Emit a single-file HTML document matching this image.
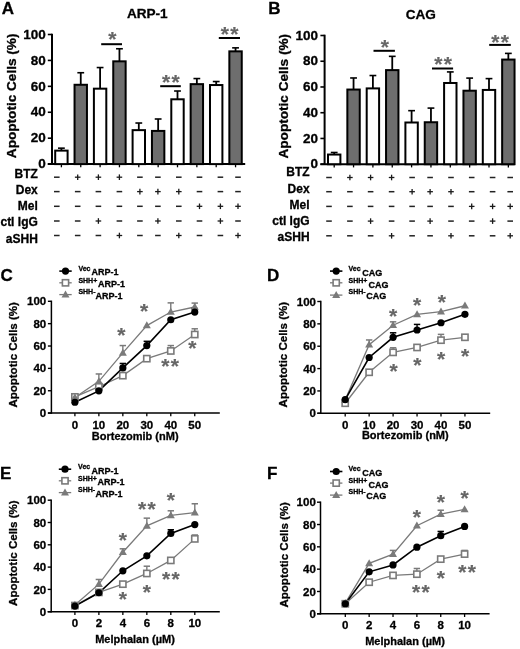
<!DOCTYPE html>
<html><head><meta charset="utf-8"><style>
html,body{margin:0;padding:0;background:#fff;width:520px;height:649px;overflow:hidden}
svg{display:block;font-family:"Liberation Sans", sans-serif;filter:grayscale(1)}
text{stroke:#000;stroke-width:0.3px;paint-order:stroke}
text.st{stroke:#666666;stroke-width:0.2px}
</style></head><body>
<svg width="520" height="649" viewBox="0 0 520 649">
<rect width="520" height="649" fill="#fff"/>
<line x1="52.00" y1="33.70" x2="52.00" y2="164.90" stroke="#000" stroke-width="2" stroke-linecap="butt"/>
<line x1="47.80" y1="164.10" x2="52.00" y2="164.10" stroke="#000" stroke-width="1.6" stroke-linecap="butt"/>
<text x="45.80" y="168.30" font-size="13.5" font-weight="bold" text-anchor="end" fill="#000" >0</text>
<line x1="47.80" y1="138.18" x2="52.00" y2="138.18" stroke="#000" stroke-width="1.6" stroke-linecap="butt"/>
<text x="45.80" y="142.38" font-size="13.5" font-weight="bold" text-anchor="end" fill="#000" >20</text>
<line x1="47.80" y1="112.26" x2="52.00" y2="112.26" stroke="#000" stroke-width="1.6" stroke-linecap="butt"/>
<text x="45.80" y="116.46" font-size="13.5" font-weight="bold" text-anchor="end" fill="#000" >40</text>
<line x1="47.80" y1="86.34" x2="52.00" y2="86.34" stroke="#000" stroke-width="1.6" stroke-linecap="butt"/>
<text x="45.80" y="90.54" font-size="13.5" font-weight="bold" text-anchor="end" fill="#000" >60</text>
<line x1="47.80" y1="60.42" x2="52.00" y2="60.42" stroke="#000" stroke-width="1.6" stroke-linecap="butt"/>
<text x="45.80" y="64.62" font-size="13.5" font-weight="bold" text-anchor="end" fill="#000" >80</text>
<line x1="47.80" y1="34.50" x2="52.00" y2="34.50" stroke="#000" stroke-width="1.6" stroke-linecap="butt"/>
<text x="45.80" y="38.70" font-size="13.5" font-weight="bold" text-anchor="end" fill="#000" >100</text>
<line x1="47.80" y1="164.10" x2="245.20" y2="164.10" stroke="#000" stroke-width="2" stroke-linecap="butt"/>
<line x1="61.40" y1="150.62" x2="61.40" y2="148.16" stroke="#000" stroke-width="1.8" stroke-linecap="butt"/>
<line x1="58.00" y1="148.16" x2="64.80" y2="148.16" stroke="#000" stroke-width="1.6" stroke-linecap="butt"/>
<rect x="55.20" y="150.62" width="12.4" height="13.48" fill="#fff" stroke="#000" stroke-width="2"/>
<line x1="61.40" y1="164.10" x2="61.40" y2="167.30" stroke="#000" stroke-width="1.3" stroke-linecap="butt"/>
<line x1="80.75" y1="84.78" x2="80.75" y2="72.73" stroke="#000" stroke-width="1.8" stroke-linecap="butt"/>
<line x1="77.35" y1="72.73" x2="84.15" y2="72.73" stroke="#000" stroke-width="1.6" stroke-linecap="butt"/>
<rect x="74.55" y="84.78" width="12.4" height="79.32" fill="#6e6e6e" stroke="#000" stroke-width="2"/>
<line x1="80.75" y1="164.10" x2="80.75" y2="167.30" stroke="#000" stroke-width="1.3" stroke-linecap="butt"/>
<line x1="100.10" y1="88.67" x2="100.10" y2="67.55" stroke="#000" stroke-width="1.8" stroke-linecap="butt"/>
<line x1="96.70" y1="67.55" x2="103.50" y2="67.55" stroke="#000" stroke-width="1.6" stroke-linecap="butt"/>
<rect x="93.90" y="88.67" width="12.4" height="75.43" fill="#fff" stroke="#000" stroke-width="2"/>
<line x1="100.10" y1="164.10" x2="100.10" y2="167.30" stroke="#000" stroke-width="1.3" stroke-linecap="butt"/>
<line x1="119.45" y1="61.33" x2="119.45" y2="48.76" stroke="#000" stroke-width="1.8" stroke-linecap="butt"/>
<line x1="116.05" y1="48.76" x2="122.85" y2="48.76" stroke="#000" stroke-width="1.6" stroke-linecap="butt"/>
<rect x="113.25" y="61.33" width="12.4" height="102.77" fill="#6e6e6e" stroke="#000" stroke-width="2"/>
<line x1="119.45" y1="164.10" x2="119.45" y2="167.30" stroke="#000" stroke-width="1.3" stroke-linecap="butt"/>
<line x1="138.80" y1="130.14" x2="138.80" y2="123.02" stroke="#000" stroke-width="1.8" stroke-linecap="butt"/>
<line x1="135.40" y1="123.02" x2="142.20" y2="123.02" stroke="#000" stroke-width="1.6" stroke-linecap="butt"/>
<rect x="132.60" y="130.14" width="12.4" height="33.96" fill="#fff" stroke="#000" stroke-width="2"/>
<line x1="138.80" y1="164.10" x2="138.80" y2="167.30" stroke="#000" stroke-width="1.3" stroke-linecap="butt"/>
<line x1="158.15" y1="130.92" x2="158.15" y2="119.00" stroke="#000" stroke-width="1.8" stroke-linecap="butt"/>
<line x1="154.75" y1="119.00" x2="161.55" y2="119.00" stroke="#000" stroke-width="1.6" stroke-linecap="butt"/>
<rect x="151.95" y="130.92" width="12.4" height="33.18" fill="#6e6e6e" stroke="#000" stroke-width="2"/>
<line x1="158.15" y1="164.10" x2="158.15" y2="167.30" stroke="#000" stroke-width="1.3" stroke-linecap="butt"/>
<line x1="177.50" y1="99.30" x2="177.50" y2="91.01" stroke="#000" stroke-width="1.8" stroke-linecap="butt"/>
<line x1="174.10" y1="91.01" x2="180.90" y2="91.01" stroke="#000" stroke-width="1.6" stroke-linecap="butt"/>
<rect x="171.30" y="99.30" width="12.4" height="64.80" fill="#fff" stroke="#000" stroke-width="2"/>
<line x1="177.50" y1="164.10" x2="177.50" y2="167.30" stroke="#000" stroke-width="1.3" stroke-linecap="butt"/>
<line x1="196.85" y1="84.14" x2="196.85" y2="78.56" stroke="#000" stroke-width="1.8" stroke-linecap="butt"/>
<line x1="193.45" y1="78.56" x2="200.25" y2="78.56" stroke="#000" stroke-width="1.6" stroke-linecap="butt"/>
<rect x="190.65" y="84.14" width="12.4" height="79.96" fill="#6e6e6e" stroke="#000" stroke-width="2"/>
<line x1="196.85" y1="164.10" x2="196.85" y2="167.30" stroke="#000" stroke-width="1.3" stroke-linecap="butt"/>
<line x1="216.20" y1="85.04" x2="216.20" y2="81.54" stroke="#000" stroke-width="1.8" stroke-linecap="butt"/>
<line x1="212.80" y1="81.54" x2="219.60" y2="81.54" stroke="#000" stroke-width="1.6" stroke-linecap="butt"/>
<rect x="210.00" y="85.04" width="12.4" height="79.06" fill="#fff" stroke="#000" stroke-width="2"/>
<line x1="216.20" y1="164.10" x2="216.20" y2="167.30" stroke="#000" stroke-width="1.3" stroke-linecap="butt"/>
<line x1="235.55" y1="51.35" x2="235.55" y2="47.85" stroke="#000" stroke-width="1.8" stroke-linecap="butt"/>
<line x1="232.15" y1="47.85" x2="238.95" y2="47.85" stroke="#000" stroke-width="1.6" stroke-linecap="butt"/>
<rect x="229.35" y="51.35" width="12.4" height="112.75" fill="#6e6e6e" stroke="#000" stroke-width="2"/>
<line x1="235.55" y1="164.10" x2="235.55" y2="167.30" stroke="#000" stroke-width="1.3" stroke-linecap="butt"/>
<line x1="101.20" y1="44.20" x2="122.00" y2="44.20" stroke="#000" stroke-width="2" stroke-linecap="butt"/>
<text x="112.30" y="45.91" font-size="21" font-weight="bold" text-anchor="middle" fill="#666666" class="st">*</text>
<line x1="160.20" y1="86.20" x2="180.80" y2="86.20" stroke="#000" stroke-width="2" stroke-linecap="butt"/>
<text x="166.05" y="88.91" font-size="21" font-weight="bold" text-anchor="middle" fill="#666666" class="st">*</text>
<text x="175.55" y="88.91" font-size="21" font-weight="bold" text-anchor="middle" fill="#666666" class="st">*</text>
<line x1="218.80" y1="38.00" x2="240.00" y2="38.00" stroke="#000" stroke-width="2" stroke-linecap="butt"/>
<text x="224.95" y="41.41" font-size="21" font-weight="bold" text-anchor="middle" fill="#666666" class="st">*</text>
<text x="234.45" y="41.41" font-size="21" font-weight="bold" text-anchor="middle" fill="#666666" class="st">*</text>
<text x="147.30" y="18.30" font-size="13.6" font-weight="bold" text-anchor="middle" fill="#000" >ARP-1</text>
<text x="1.80" y="13.60" font-size="17" font-weight="bold" text-anchor="start" fill="#000" >A</text>
<text transform="translate(16.10,95.85) rotate(-90)" font-size="13.6" font-weight="bold" text-anchor="middle">Apoptotic Cells (%)</text>
<text x="37.80" y="178.10" font-size="12" font-weight="bold" text-anchor="end" fill="#000" >BTZ</text>
<line x1="54.00" y1="177.20" x2="59.60" y2="177.20" stroke="#222" stroke-width="1.5" stroke-linecap="butt"/>
<line x1="74.90" y1="177.20" x2="80.50" y2="177.20" stroke="#1a1a1a" stroke-width="1.3" stroke-linecap="butt"/>
<line x1="77.70" y1="174.40" x2="77.70" y2="180.00" stroke="#1a1a1a" stroke-width="1.3" stroke-linecap="butt"/>
<line x1="95.60" y1="177.20" x2="101.20" y2="177.20" stroke="#1a1a1a" stroke-width="1.3" stroke-linecap="butt"/>
<line x1="98.40" y1="174.40" x2="98.40" y2="180.00" stroke="#1a1a1a" stroke-width="1.3" stroke-linecap="butt"/>
<line x1="116.60" y1="177.20" x2="122.20" y2="177.20" stroke="#1a1a1a" stroke-width="1.3" stroke-linecap="butt"/>
<line x1="119.40" y1="174.40" x2="119.40" y2="180.00" stroke="#1a1a1a" stroke-width="1.3" stroke-linecap="butt"/>
<line x1="137.10" y1="177.20" x2="142.70" y2="177.20" stroke="#222" stroke-width="1.5" stroke-linecap="butt"/>
<line x1="155.10" y1="177.20" x2="160.70" y2="177.20" stroke="#222" stroke-width="1.5" stroke-linecap="butt"/>
<line x1="176.00" y1="177.20" x2="181.60" y2="177.20" stroke="#222" stroke-width="1.5" stroke-linecap="butt"/>
<line x1="196.70" y1="177.20" x2="202.30" y2="177.20" stroke="#222" stroke-width="1.5" stroke-linecap="butt"/>
<line x1="217.60" y1="177.20" x2="223.20" y2="177.20" stroke="#222" stroke-width="1.5" stroke-linecap="butt"/>
<line x1="235.20" y1="177.20" x2="240.80" y2="177.20" stroke="#222" stroke-width="1.5" stroke-linecap="butt"/>
<text x="37.80" y="194.30" font-size="12" font-weight="bold" text-anchor="end" fill="#000" >Dex</text>
<line x1="54.00" y1="191.60" x2="59.60" y2="191.60" stroke="#222" stroke-width="1.5" stroke-linecap="butt"/>
<line x1="74.90" y1="191.60" x2="80.50" y2="191.60" stroke="#222" stroke-width="1.5" stroke-linecap="butt"/>
<line x1="95.60" y1="191.60" x2="101.20" y2="191.60" stroke="#222" stroke-width="1.5" stroke-linecap="butt"/>
<line x1="116.60" y1="191.60" x2="122.20" y2="191.60" stroke="#222" stroke-width="1.5" stroke-linecap="butt"/>
<line x1="137.10" y1="191.60" x2="142.70" y2="191.60" stroke="#1a1a1a" stroke-width="1.3" stroke-linecap="butt"/>
<line x1="139.90" y1="188.80" x2="139.90" y2="194.40" stroke="#1a1a1a" stroke-width="1.3" stroke-linecap="butt"/>
<line x1="155.10" y1="191.60" x2="160.70" y2="191.60" stroke="#1a1a1a" stroke-width="1.3" stroke-linecap="butt"/>
<line x1="157.90" y1="188.80" x2="157.90" y2="194.40" stroke="#1a1a1a" stroke-width="1.3" stroke-linecap="butt"/>
<line x1="176.00" y1="191.60" x2="181.60" y2="191.60" stroke="#1a1a1a" stroke-width="1.3" stroke-linecap="butt"/>
<line x1="178.80" y1="188.80" x2="178.80" y2="194.40" stroke="#1a1a1a" stroke-width="1.3" stroke-linecap="butt"/>
<line x1="196.70" y1="191.60" x2="202.30" y2="191.60" stroke="#222" stroke-width="1.5" stroke-linecap="butt"/>
<line x1="217.60" y1="191.60" x2="223.20" y2="191.60" stroke="#222" stroke-width="1.5" stroke-linecap="butt"/>
<line x1="235.20" y1="191.60" x2="240.80" y2="191.60" stroke="#222" stroke-width="1.5" stroke-linecap="butt"/>
<text x="37.80" y="210.10" font-size="12" font-weight="bold" text-anchor="end" fill="#000" >Mel</text>
<line x1="54.00" y1="206.30" x2="59.60" y2="206.30" stroke="#222" stroke-width="1.5" stroke-linecap="butt"/>
<line x1="74.90" y1="206.30" x2="80.50" y2="206.30" stroke="#222" stroke-width="1.5" stroke-linecap="butt"/>
<line x1="95.60" y1="206.30" x2="101.20" y2="206.30" stroke="#222" stroke-width="1.5" stroke-linecap="butt"/>
<line x1="116.60" y1="206.30" x2="122.20" y2="206.30" stroke="#222" stroke-width="1.5" stroke-linecap="butt"/>
<line x1="137.10" y1="206.30" x2="142.70" y2="206.30" stroke="#222" stroke-width="1.5" stroke-linecap="butt"/>
<line x1="155.10" y1="206.30" x2="160.70" y2="206.30" stroke="#222" stroke-width="1.5" stroke-linecap="butt"/>
<line x1="176.00" y1="206.30" x2="181.60" y2="206.30" stroke="#222" stroke-width="1.5" stroke-linecap="butt"/>
<line x1="196.70" y1="206.30" x2="202.30" y2="206.30" stroke="#1a1a1a" stroke-width="1.3" stroke-linecap="butt"/>
<line x1="199.50" y1="203.50" x2="199.50" y2="209.10" stroke="#1a1a1a" stroke-width="1.3" stroke-linecap="butt"/>
<line x1="217.60" y1="206.30" x2="223.20" y2="206.30" stroke="#1a1a1a" stroke-width="1.3" stroke-linecap="butt"/>
<line x1="220.40" y1="203.50" x2="220.40" y2="209.10" stroke="#1a1a1a" stroke-width="1.3" stroke-linecap="butt"/>
<line x1="235.20" y1="206.30" x2="240.80" y2="206.30" stroke="#1a1a1a" stroke-width="1.3" stroke-linecap="butt"/>
<line x1="238.00" y1="203.50" x2="238.00" y2="209.10" stroke="#1a1a1a" stroke-width="1.3" stroke-linecap="butt"/>
<text x="37.80" y="226.20" font-size="12" font-weight="bold" text-anchor="end" fill="#000" >ctl IgG</text>
<line x1="54.00" y1="221.00" x2="59.60" y2="221.00" stroke="#222" stroke-width="1.5" stroke-linecap="butt"/>
<line x1="74.90" y1="221.00" x2="80.50" y2="221.00" stroke="#222" stroke-width="1.5" stroke-linecap="butt"/>
<line x1="95.60" y1="221.00" x2="101.20" y2="221.00" stroke="#1a1a1a" stroke-width="1.3" stroke-linecap="butt"/>
<line x1="98.40" y1="218.20" x2="98.40" y2="223.80" stroke="#1a1a1a" stroke-width="1.3" stroke-linecap="butt"/>
<line x1="116.60" y1="221.00" x2="122.20" y2="221.00" stroke="#222" stroke-width="1.5" stroke-linecap="butt"/>
<line x1="137.10" y1="221.00" x2="142.70" y2="221.00" stroke="#222" stroke-width="1.5" stroke-linecap="butt"/>
<line x1="155.10" y1="221.00" x2="160.70" y2="221.00" stroke="#1a1a1a" stroke-width="1.3" stroke-linecap="butt"/>
<line x1="157.90" y1="218.20" x2="157.90" y2="223.80" stroke="#1a1a1a" stroke-width="1.3" stroke-linecap="butt"/>
<line x1="176.00" y1="221.00" x2="181.60" y2="221.00" stroke="#222" stroke-width="1.5" stroke-linecap="butt"/>
<line x1="196.70" y1="221.00" x2="202.30" y2="221.00" stroke="#222" stroke-width="1.5" stroke-linecap="butt"/>
<line x1="217.60" y1="221.00" x2="223.20" y2="221.00" stroke="#1a1a1a" stroke-width="1.3" stroke-linecap="butt"/>
<line x1="220.40" y1="218.20" x2="220.40" y2="223.80" stroke="#1a1a1a" stroke-width="1.3" stroke-linecap="butt"/>
<line x1="235.20" y1="221.00" x2="240.80" y2="221.00" stroke="#222" stroke-width="1.5" stroke-linecap="butt"/>
<text x="37.80" y="242.50" font-size="12" font-weight="bold" text-anchor="end" fill="#000" >aSHH</text>
<line x1="54.00" y1="235.50" x2="59.60" y2="235.50" stroke="#222" stroke-width="1.5" stroke-linecap="butt"/>
<line x1="74.90" y1="235.50" x2="80.50" y2="235.50" stroke="#222" stroke-width="1.5" stroke-linecap="butt"/>
<line x1="95.60" y1="235.50" x2="101.20" y2="235.50" stroke="#222" stroke-width="1.5" stroke-linecap="butt"/>
<line x1="116.60" y1="235.50" x2="122.20" y2="235.50" stroke="#1a1a1a" stroke-width="1.3" stroke-linecap="butt"/>
<line x1="119.40" y1="232.70" x2="119.40" y2="238.30" stroke="#1a1a1a" stroke-width="1.3" stroke-linecap="butt"/>
<line x1="137.10" y1="235.50" x2="142.70" y2="235.50" stroke="#222" stroke-width="1.5" stroke-linecap="butt"/>
<line x1="155.10" y1="235.50" x2="160.70" y2="235.50" stroke="#222" stroke-width="1.5" stroke-linecap="butt"/>
<line x1="176.00" y1="235.50" x2="181.60" y2="235.50" stroke="#1a1a1a" stroke-width="1.3" stroke-linecap="butt"/>
<line x1="178.80" y1="232.70" x2="178.80" y2="238.30" stroke="#1a1a1a" stroke-width="1.3" stroke-linecap="butt"/>
<line x1="196.70" y1="235.50" x2="202.30" y2="235.50" stroke="#222" stroke-width="1.5" stroke-linecap="butt"/>
<line x1="217.60" y1="235.50" x2="223.20" y2="235.50" stroke="#222" stroke-width="1.5" stroke-linecap="butt"/>
<line x1="235.20" y1="235.50" x2="240.80" y2="235.50" stroke="#1a1a1a" stroke-width="1.3" stroke-linecap="butt"/>
<line x1="238.00" y1="232.70" x2="238.00" y2="238.30" stroke="#1a1a1a" stroke-width="1.3" stroke-linecap="butt"/>
<line x1="324.60" y1="34.70" x2="324.60" y2="165.00" stroke="#000" stroke-width="2" stroke-linecap="butt"/>
<line x1="320.40" y1="164.20" x2="324.60" y2="164.20" stroke="#000" stroke-width="1.6" stroke-linecap="butt"/>
<text x="318.00" y="168.40" font-size="13.5" font-weight="bold" text-anchor="end" fill="#000" >0</text>
<line x1="320.40" y1="138.46" x2="324.60" y2="138.46" stroke="#000" stroke-width="1.6" stroke-linecap="butt"/>
<text x="318.00" y="142.66" font-size="13.5" font-weight="bold" text-anchor="end" fill="#000" >20</text>
<line x1="320.40" y1="112.72" x2="324.60" y2="112.72" stroke="#000" stroke-width="1.6" stroke-linecap="butt"/>
<text x="318.00" y="116.92" font-size="13.5" font-weight="bold" text-anchor="end" fill="#000" >40</text>
<line x1="320.40" y1="86.98" x2="324.60" y2="86.98" stroke="#000" stroke-width="1.6" stroke-linecap="butt"/>
<text x="318.00" y="91.18" font-size="13.5" font-weight="bold" text-anchor="end" fill="#000" >60</text>
<line x1="320.40" y1="61.24" x2="324.60" y2="61.24" stroke="#000" stroke-width="1.6" stroke-linecap="butt"/>
<text x="318.00" y="65.44" font-size="13.5" font-weight="bold" text-anchor="end" fill="#000" >80</text>
<line x1="320.40" y1="35.50" x2="324.60" y2="35.50" stroke="#000" stroke-width="1.6" stroke-linecap="butt"/>
<text x="318.00" y="39.70" font-size="13.5" font-weight="bold" text-anchor="end" fill="#000" >100</text>
<line x1="320.40" y1="164.20" x2="514.70" y2="164.20" stroke="#000" stroke-width="2" stroke-linecap="butt"/>
<line x1="334.20" y1="154.55" x2="334.20" y2="152.49" stroke="#000" stroke-width="1.8" stroke-linecap="butt"/>
<line x1="330.80" y1="152.49" x2="337.60" y2="152.49" stroke="#000" stroke-width="1.6" stroke-linecap="butt"/>
<rect x="328.00" y="154.55" width="12.4" height="9.65" fill="#fff" stroke="#000" stroke-width="2"/>
<line x1="334.20" y1="164.20" x2="334.20" y2="167.40" stroke="#000" stroke-width="1.3" stroke-linecap="butt"/>
<line x1="353.55" y1="89.55" x2="353.55" y2="77.97" stroke="#000" stroke-width="1.8" stroke-linecap="butt"/>
<line x1="350.15" y1="77.97" x2="356.95" y2="77.97" stroke="#000" stroke-width="1.6" stroke-linecap="butt"/>
<rect x="347.35" y="89.55" width="12.4" height="74.65" fill="#6e6e6e" stroke="#000" stroke-width="2"/>
<line x1="353.55" y1="164.20" x2="353.55" y2="167.40" stroke="#000" stroke-width="1.3" stroke-linecap="butt"/>
<line x1="372.90" y1="88.40" x2="372.90" y2="75.53" stroke="#000" stroke-width="1.8" stroke-linecap="butt"/>
<line x1="369.50" y1="75.53" x2="376.30" y2="75.53" stroke="#000" stroke-width="1.6" stroke-linecap="butt"/>
<rect x="366.70" y="88.40" width="12.4" height="75.80" fill="#fff" stroke="#000" stroke-width="2"/>
<line x1="372.90" y1="164.20" x2="372.90" y2="167.40" stroke="#000" stroke-width="1.3" stroke-linecap="butt"/>
<line x1="392.25" y1="70.12" x2="392.25" y2="56.35" stroke="#000" stroke-width="1.8" stroke-linecap="butt"/>
<line x1="388.85" y1="56.35" x2="395.65" y2="56.35" stroke="#000" stroke-width="1.6" stroke-linecap="butt"/>
<rect x="386.05" y="70.12" width="12.4" height="94.08" fill="#6e6e6e" stroke="#000" stroke-width="2"/>
<line x1="392.25" y1="164.20" x2="392.25" y2="167.40" stroke="#000" stroke-width="1.3" stroke-linecap="butt"/>
<line x1="411.60" y1="122.50" x2="411.60" y2="110.66" stroke="#000" stroke-width="1.8" stroke-linecap="butt"/>
<line x1="408.20" y1="110.66" x2="415.00" y2="110.66" stroke="#000" stroke-width="1.6" stroke-linecap="butt"/>
<rect x="405.40" y="122.50" width="12.4" height="41.70" fill="#fff" stroke="#000" stroke-width="2"/>
<line x1="411.60" y1="164.20" x2="411.60" y2="167.40" stroke="#000" stroke-width="1.3" stroke-linecap="butt"/>
<line x1="430.95" y1="122.24" x2="430.95" y2="108.09" stroke="#000" stroke-width="1.8" stroke-linecap="butt"/>
<line x1="427.55" y1="108.09" x2="434.35" y2="108.09" stroke="#000" stroke-width="1.6" stroke-linecap="butt"/>
<rect x="424.75" y="122.24" width="12.4" height="41.96" fill="#6e6e6e" stroke="#000" stroke-width="2"/>
<line x1="430.95" y1="164.20" x2="430.95" y2="167.40" stroke="#000" stroke-width="1.3" stroke-linecap="butt"/>
<line x1="450.30" y1="82.99" x2="450.30" y2="71.92" stroke="#000" stroke-width="1.8" stroke-linecap="butt"/>
<line x1="446.90" y1="71.92" x2="453.70" y2="71.92" stroke="#000" stroke-width="1.6" stroke-linecap="butt"/>
<rect x="444.10" y="82.99" width="12.4" height="81.21" fill="#fff" stroke="#000" stroke-width="2"/>
<line x1="450.30" y1="164.20" x2="450.30" y2="167.40" stroke="#000" stroke-width="1.3" stroke-linecap="butt"/>
<line x1="469.65" y1="90.71" x2="469.65" y2="78.10" stroke="#000" stroke-width="1.8" stroke-linecap="butt"/>
<line x1="466.25" y1="78.10" x2="473.05" y2="78.10" stroke="#000" stroke-width="1.6" stroke-linecap="butt"/>
<rect x="463.45" y="90.71" width="12.4" height="73.49" fill="#6e6e6e" stroke="#000" stroke-width="2"/>
<line x1="469.65" y1="164.20" x2="469.65" y2="167.40" stroke="#000" stroke-width="1.3" stroke-linecap="butt"/>
<line x1="489.00" y1="89.94" x2="489.00" y2="78.61" stroke="#000" stroke-width="1.8" stroke-linecap="butt"/>
<line x1="485.60" y1="78.61" x2="492.40" y2="78.61" stroke="#000" stroke-width="1.6" stroke-linecap="butt"/>
<rect x="482.80" y="89.94" width="12.4" height="74.26" fill="#fff" stroke="#000" stroke-width="2"/>
<line x1="489.00" y1="164.20" x2="489.00" y2="167.40" stroke="#000" stroke-width="1.3" stroke-linecap="butt"/>
<line x1="508.35" y1="59.57" x2="508.35" y2="53.39" stroke="#000" stroke-width="1.8" stroke-linecap="butt"/>
<line x1="504.95" y1="53.39" x2="511.75" y2="53.39" stroke="#000" stroke-width="1.6" stroke-linecap="butt"/>
<rect x="502.15" y="59.57" width="12.4" height="104.63" fill="#6e6e6e" stroke="#000" stroke-width="2"/>
<line x1="508.35" y1="164.20" x2="508.35" y2="167.40" stroke="#000" stroke-width="1.3" stroke-linecap="butt"/>
<line x1="373.50" y1="50.80" x2="394.90" y2="50.80" stroke="#000" stroke-width="2" stroke-linecap="butt"/>
<text x="384.90" y="53.70" font-size="21" font-weight="bold" text-anchor="middle" fill="#666666" class="st">*</text>
<line x1="432.00" y1="68.50" x2="453.10" y2="68.50" stroke="#000" stroke-width="2" stroke-linecap="butt"/>
<text x="438.25" y="71.11" font-size="21" font-weight="bold" text-anchor="middle" fill="#666666" class="st">*</text>
<text x="447.75" y="71.11" font-size="21" font-weight="bold" text-anchor="middle" fill="#666666" class="st">*</text>
<line x1="489.20" y1="44.90" x2="510.80" y2="44.90" stroke="#000" stroke-width="2" stroke-linecap="butt"/>
<text x="495.25" y="49.20" font-size="21" font-weight="bold" text-anchor="middle" fill="#666666" class="st">*</text>
<text x="504.75" y="49.20" font-size="21" font-weight="bold" text-anchor="middle" fill="#666666" class="st">*</text>
<text x="420.80" y="18.50" font-size="13.6" font-weight="bold" text-anchor="middle" fill="#000" >CAG</text>
<text x="268.20" y="14.10" font-size="17" font-weight="bold" text-anchor="start" fill="#000" >B</text>
<text transform="translate(288.40,96.25) rotate(-90)" font-size="13.6" font-weight="bold" text-anchor="middle">Apoptotic Cells (%)</text>
<text x="309.60" y="175.90" font-size="12" font-weight="bold" text-anchor="end" fill="#000" >BTZ</text>
<line x1="326.20" y1="177.50" x2="331.80" y2="177.50" stroke="#222" stroke-width="1.5" stroke-linecap="butt"/>
<line x1="347.10" y1="177.50" x2="352.70" y2="177.50" stroke="#1a1a1a" stroke-width="1.3" stroke-linecap="butt"/>
<line x1="349.90" y1="174.70" x2="349.90" y2="180.30" stroke="#1a1a1a" stroke-width="1.3" stroke-linecap="butt"/>
<line x1="367.80" y1="177.50" x2="373.40" y2="177.50" stroke="#1a1a1a" stroke-width="1.3" stroke-linecap="butt"/>
<line x1="370.60" y1="174.70" x2="370.60" y2="180.30" stroke="#1a1a1a" stroke-width="1.3" stroke-linecap="butt"/>
<line x1="388.80" y1="177.50" x2="394.40" y2="177.50" stroke="#1a1a1a" stroke-width="1.3" stroke-linecap="butt"/>
<line x1="391.60" y1="174.70" x2="391.60" y2="180.30" stroke="#1a1a1a" stroke-width="1.3" stroke-linecap="butt"/>
<line x1="409.30" y1="177.50" x2="414.90" y2="177.50" stroke="#222" stroke-width="1.5" stroke-linecap="butt"/>
<line x1="427.30" y1="177.50" x2="432.90" y2="177.50" stroke="#222" stroke-width="1.5" stroke-linecap="butt"/>
<line x1="448.20" y1="177.50" x2="453.80" y2="177.50" stroke="#222" stroke-width="1.5" stroke-linecap="butt"/>
<line x1="468.90" y1="177.50" x2="474.50" y2="177.50" stroke="#222" stroke-width="1.5" stroke-linecap="butt"/>
<line x1="489.80" y1="177.50" x2="495.40" y2="177.50" stroke="#222" stroke-width="1.5" stroke-linecap="butt"/>
<line x1="507.40" y1="177.50" x2="513.00" y2="177.50" stroke="#222" stroke-width="1.5" stroke-linecap="butt"/>
<text x="309.60" y="192.60" font-size="12" font-weight="bold" text-anchor="end" fill="#000" >Dex</text>
<line x1="326.20" y1="191.70" x2="331.80" y2="191.70" stroke="#222" stroke-width="1.5" stroke-linecap="butt"/>
<line x1="347.10" y1="191.70" x2="352.70" y2="191.70" stroke="#222" stroke-width="1.5" stroke-linecap="butt"/>
<line x1="367.80" y1="191.70" x2="373.40" y2="191.70" stroke="#222" stroke-width="1.5" stroke-linecap="butt"/>
<line x1="388.80" y1="191.70" x2="394.40" y2="191.70" stroke="#222" stroke-width="1.5" stroke-linecap="butt"/>
<line x1="409.30" y1="191.70" x2="414.90" y2="191.70" stroke="#1a1a1a" stroke-width="1.3" stroke-linecap="butt"/>
<line x1="412.10" y1="188.90" x2="412.10" y2="194.50" stroke="#1a1a1a" stroke-width="1.3" stroke-linecap="butt"/>
<line x1="427.30" y1="191.70" x2="432.90" y2="191.70" stroke="#1a1a1a" stroke-width="1.3" stroke-linecap="butt"/>
<line x1="430.10" y1="188.90" x2="430.10" y2="194.50" stroke="#1a1a1a" stroke-width="1.3" stroke-linecap="butt"/>
<line x1="448.20" y1="191.70" x2="453.80" y2="191.70" stroke="#1a1a1a" stroke-width="1.3" stroke-linecap="butt"/>
<line x1="451.00" y1="188.90" x2="451.00" y2="194.50" stroke="#1a1a1a" stroke-width="1.3" stroke-linecap="butt"/>
<line x1="468.90" y1="191.70" x2="474.50" y2="191.70" stroke="#222" stroke-width="1.5" stroke-linecap="butt"/>
<line x1="489.80" y1="191.70" x2="495.40" y2="191.70" stroke="#222" stroke-width="1.5" stroke-linecap="butt"/>
<line x1="507.40" y1="191.70" x2="513.00" y2="191.70" stroke="#222" stroke-width="1.5" stroke-linecap="butt"/>
<text x="309.60" y="208.50" font-size="12" font-weight="bold" text-anchor="end" fill="#000" >Mel</text>
<line x1="326.20" y1="206.40" x2="331.80" y2="206.40" stroke="#222" stroke-width="1.5" stroke-linecap="butt"/>
<line x1="347.10" y1="206.40" x2="352.70" y2="206.40" stroke="#222" stroke-width="1.5" stroke-linecap="butt"/>
<line x1="367.80" y1="206.40" x2="373.40" y2="206.40" stroke="#222" stroke-width="1.5" stroke-linecap="butt"/>
<line x1="388.80" y1="206.40" x2="394.40" y2="206.40" stroke="#222" stroke-width="1.5" stroke-linecap="butt"/>
<line x1="409.30" y1="206.40" x2="414.90" y2="206.40" stroke="#222" stroke-width="1.5" stroke-linecap="butt"/>
<line x1="427.30" y1="206.40" x2="432.90" y2="206.40" stroke="#222" stroke-width="1.5" stroke-linecap="butt"/>
<line x1="448.20" y1="206.40" x2="453.80" y2="206.40" stroke="#222" stroke-width="1.5" stroke-linecap="butt"/>
<line x1="468.90" y1="206.40" x2="474.50" y2="206.40" stroke="#1a1a1a" stroke-width="1.3" stroke-linecap="butt"/>
<line x1="471.70" y1="203.60" x2="471.70" y2="209.20" stroke="#1a1a1a" stroke-width="1.3" stroke-linecap="butt"/>
<line x1="489.80" y1="206.40" x2="495.40" y2="206.40" stroke="#1a1a1a" stroke-width="1.3" stroke-linecap="butt"/>
<line x1="492.60" y1="203.60" x2="492.60" y2="209.20" stroke="#1a1a1a" stroke-width="1.3" stroke-linecap="butt"/>
<line x1="507.40" y1="206.40" x2="513.00" y2="206.40" stroke="#1a1a1a" stroke-width="1.3" stroke-linecap="butt"/>
<line x1="510.20" y1="203.60" x2="510.20" y2="209.20" stroke="#1a1a1a" stroke-width="1.3" stroke-linecap="butt"/>
<text x="309.60" y="224.90" font-size="12" font-weight="bold" text-anchor="end" fill="#000" >ctl IgG</text>
<line x1="326.20" y1="221.10" x2="331.80" y2="221.10" stroke="#222" stroke-width="1.5" stroke-linecap="butt"/>
<line x1="347.10" y1="221.10" x2="352.70" y2="221.10" stroke="#222" stroke-width="1.5" stroke-linecap="butt"/>
<line x1="367.80" y1="221.10" x2="373.40" y2="221.10" stroke="#1a1a1a" stroke-width="1.3" stroke-linecap="butt"/>
<line x1="370.60" y1="218.30" x2="370.60" y2="223.90" stroke="#1a1a1a" stroke-width="1.3" stroke-linecap="butt"/>
<line x1="388.80" y1="221.10" x2="394.40" y2="221.10" stroke="#222" stroke-width="1.5" stroke-linecap="butt"/>
<line x1="409.30" y1="221.10" x2="414.90" y2="221.10" stroke="#222" stroke-width="1.5" stroke-linecap="butt"/>
<line x1="427.30" y1="221.10" x2="432.90" y2="221.10" stroke="#1a1a1a" stroke-width="1.3" stroke-linecap="butt"/>
<line x1="430.10" y1="218.30" x2="430.10" y2="223.90" stroke="#1a1a1a" stroke-width="1.3" stroke-linecap="butt"/>
<line x1="448.20" y1="221.10" x2="453.80" y2="221.10" stroke="#222" stroke-width="1.5" stroke-linecap="butt"/>
<line x1="468.90" y1="221.10" x2="474.50" y2="221.10" stroke="#222" stroke-width="1.5" stroke-linecap="butt"/>
<line x1="489.80" y1="221.10" x2="495.40" y2="221.10" stroke="#1a1a1a" stroke-width="1.3" stroke-linecap="butt"/>
<line x1="492.60" y1="218.30" x2="492.60" y2="223.90" stroke="#1a1a1a" stroke-width="1.3" stroke-linecap="butt"/>
<line x1="507.40" y1="221.10" x2="513.00" y2="221.10" stroke="#222" stroke-width="1.5" stroke-linecap="butt"/>
<text x="309.60" y="241.10" font-size="12" font-weight="bold" text-anchor="end" fill="#000" >aSHH</text>
<line x1="326.20" y1="235.80" x2="331.80" y2="235.80" stroke="#222" stroke-width="1.5" stroke-linecap="butt"/>
<line x1="347.10" y1="235.80" x2="352.70" y2="235.80" stroke="#222" stroke-width="1.5" stroke-linecap="butt"/>
<line x1="367.80" y1="235.80" x2="373.40" y2="235.80" stroke="#222" stroke-width="1.5" stroke-linecap="butt"/>
<line x1="388.80" y1="235.80" x2="394.40" y2="235.80" stroke="#1a1a1a" stroke-width="1.3" stroke-linecap="butt"/>
<line x1="391.60" y1="233.00" x2="391.60" y2="238.60" stroke="#1a1a1a" stroke-width="1.3" stroke-linecap="butt"/>
<line x1="409.30" y1="235.80" x2="414.90" y2="235.80" stroke="#222" stroke-width="1.5" stroke-linecap="butt"/>
<line x1="427.30" y1="235.80" x2="432.90" y2="235.80" stroke="#222" stroke-width="1.5" stroke-linecap="butt"/>
<line x1="448.20" y1="235.80" x2="453.80" y2="235.80" stroke="#1a1a1a" stroke-width="1.3" stroke-linecap="butt"/>
<line x1="451.00" y1="233.00" x2="451.00" y2="238.60" stroke="#1a1a1a" stroke-width="1.3" stroke-linecap="butt"/>
<line x1="468.90" y1="235.80" x2="474.50" y2="235.80" stroke="#222" stroke-width="1.5" stroke-linecap="butt"/>
<line x1="489.80" y1="235.80" x2="495.40" y2="235.80" stroke="#222" stroke-width="1.5" stroke-linecap="butt"/>
<line x1="507.40" y1="235.80" x2="513.00" y2="235.80" stroke="#1a1a1a" stroke-width="1.3" stroke-linecap="butt"/>
<line x1="510.20" y1="233.00" x2="510.20" y2="238.60" stroke="#1a1a1a" stroke-width="1.3" stroke-linecap="butt"/>
<line x1="51.40" y1="300.60" x2="51.40" y2="413.80" stroke="#000" stroke-width="1.5" stroke-linecap="butt"/>
<line x1="47.90" y1="413.10" x2="51.40" y2="413.10" stroke="#000" stroke-width="1.4" stroke-linecap="butt"/>
<text x="46.20" y="417.20" font-size="11.5" font-weight="bold" text-anchor="end" fill="#000" >0</text>
<line x1="47.90" y1="390.74" x2="51.40" y2="390.74" stroke="#000" stroke-width="1.4" stroke-linecap="butt"/>
<text x="46.20" y="394.84" font-size="11.5" font-weight="bold" text-anchor="end" fill="#000" >20</text>
<line x1="47.90" y1="368.38" x2="51.40" y2="368.38" stroke="#000" stroke-width="1.4" stroke-linecap="butt"/>
<text x="46.20" y="372.48" font-size="11.5" font-weight="bold" text-anchor="end" fill="#000" >40</text>
<line x1="47.90" y1="346.02" x2="51.40" y2="346.02" stroke="#000" stroke-width="1.4" stroke-linecap="butt"/>
<text x="46.20" y="350.12" font-size="11.5" font-weight="bold" text-anchor="end" fill="#000" >60</text>
<line x1="47.90" y1="323.66" x2="51.40" y2="323.66" stroke="#000" stroke-width="1.4" stroke-linecap="butt"/>
<text x="46.20" y="327.76" font-size="11.5" font-weight="bold" text-anchor="end" fill="#000" >80</text>
<line x1="47.90" y1="301.30" x2="51.40" y2="301.30" stroke="#000" stroke-width="1.4" stroke-linecap="butt"/>
<text x="46.20" y="305.40" font-size="11.5" font-weight="bold" text-anchor="end" fill="#000" >100</text>
<line x1="47.90" y1="413.10" x2="219.80" y2="413.10" stroke="#000" stroke-width="1.5" stroke-linecap="butt"/>
<line x1="74.90" y1="413.10" x2="74.90" y2="416.30" stroke="#000" stroke-width="1.3" stroke-linecap="butt"/>
<text x="74.90" y="428.60" font-size="11.5" font-weight="bold" text-anchor="middle" fill="#000" >0</text>
<line x1="98.87" y1="413.10" x2="98.87" y2="416.30" stroke="#000" stroke-width="1.3" stroke-linecap="butt"/>
<text x="98.87" y="428.60" font-size="11.5" font-weight="bold" text-anchor="middle" fill="#000" >10</text>
<line x1="122.84" y1="413.10" x2="122.84" y2="416.30" stroke="#000" stroke-width="1.3" stroke-linecap="butt"/>
<text x="122.84" y="428.60" font-size="11.5" font-weight="bold" text-anchor="middle" fill="#000" >20</text>
<line x1="146.81" y1="413.10" x2="146.81" y2="416.30" stroke="#000" stroke-width="1.3" stroke-linecap="butt"/>
<text x="146.81" y="428.60" font-size="11.5" font-weight="bold" text-anchor="middle" fill="#000" >30</text>
<line x1="170.78" y1="413.10" x2="170.78" y2="416.30" stroke="#000" stroke-width="1.3" stroke-linecap="butt"/>
<text x="170.78" y="428.60" font-size="11.5" font-weight="bold" text-anchor="middle" fill="#000" >40</text>
<line x1="194.75" y1="413.10" x2="194.75" y2="416.30" stroke="#000" stroke-width="1.3" stroke-linecap="butt"/>
<text x="194.75" y="428.60" font-size="11.5" font-weight="bold" text-anchor="middle" fill="#000" >50</text>
<text x="135.20" y="439.60" font-size="11" font-weight="bold" text-anchor="middle" fill="#000" >Bortezomib (nM)</text>
<polyline points="74.90,396.89 98.87,386.72 122.84,375.65 146.81,358.65 170.78,350.94 194.75,334.50" fill="none" stroke="#7a7a7a" stroke-width="1.3"/>
<polyline points="74.90,397.45 98.87,381.35 122.84,352.84 146.81,325.56 170.78,312.03 194.75,307.00" fill="none" stroke="#7a7a7a" stroke-width="1.3"/>
<polyline points="74.90,402.26 98.87,390.85 122.84,367.93 146.81,345.57 170.78,319.75 194.75,312.03" fill="none" stroke="#000" stroke-width="1.6"/>
<line x1="170.78" y1="350.94" x2="170.78" y2="345.57" stroke="#7a7a7a" stroke-width="1.4" stroke-linecap="butt"/>
<line x1="167.58" y1="345.57" x2="173.98" y2="345.57" stroke="#7a7a7a" stroke-width="1.5" stroke-linecap="butt"/>
<line x1="194.75" y1="334.50" x2="194.75" y2="328.80" stroke="#7a7a7a" stroke-width="1.4" stroke-linecap="butt"/>
<line x1="191.55" y1="328.80" x2="197.95" y2="328.80" stroke="#7a7a7a" stroke-width="1.5" stroke-linecap="butt"/>
<line x1="98.87" y1="381.35" x2="98.87" y2="373.97" stroke="#7a7a7a" stroke-width="1.4" stroke-linecap="butt"/>
<line x1="95.67" y1="373.97" x2="102.07" y2="373.97" stroke="#7a7a7a" stroke-width="1.5" stroke-linecap="butt"/>
<line x1="122.84" y1="352.84" x2="122.84" y2="345.57" stroke="#7a7a7a" stroke-width="1.4" stroke-linecap="butt"/>
<line x1="119.64" y1="345.57" x2="126.04" y2="345.57" stroke="#7a7a7a" stroke-width="1.5" stroke-linecap="butt"/>
<line x1="170.78" y1="312.03" x2="170.78" y2="302.87" stroke="#7a7a7a" stroke-width="1.4" stroke-linecap="butt"/>
<line x1="167.58" y1="302.87" x2="173.98" y2="302.87" stroke="#7a7a7a" stroke-width="1.5" stroke-linecap="butt"/>
<line x1="194.75" y1="307.00" x2="194.75" y2="303.09" stroke="#7a7a7a" stroke-width="1.4" stroke-linecap="butt"/>
<line x1="191.55" y1="303.09" x2="197.95" y2="303.09" stroke="#7a7a7a" stroke-width="1.5" stroke-linecap="butt"/>
<line x1="122.84" y1="367.93" x2="122.84" y2="363.46" stroke="#000" stroke-width="1.4" stroke-linecap="butt"/>
<line x1="119.64" y1="363.46" x2="126.04" y2="363.46" stroke="#000" stroke-width="1.5" stroke-linecap="butt"/>
<line x1="146.81" y1="345.57" x2="146.81" y2="341.32" stroke="#000" stroke-width="1.4" stroke-linecap="butt"/>
<line x1="143.61" y1="341.32" x2="150.01" y2="341.32" stroke="#000" stroke-width="1.5" stroke-linecap="butt"/>
<line x1="194.75" y1="312.03" x2="194.75" y2="308.57" stroke="#000" stroke-width="1.4" stroke-linecap="butt"/>
<line x1="191.55" y1="308.57" x2="197.95" y2="308.57" stroke="#000" stroke-width="1.5" stroke-linecap="butt"/>
<rect x="71.80" y="393.79" width="6.2" height="6.2" fill="#fff" stroke="#7a7a7a" stroke-width="1.6"/>
<rect x="95.77" y="383.62" width="6.2" height="6.2" fill="#fff" stroke="#7a7a7a" stroke-width="1.6"/>
<rect x="119.74" y="372.55" width="6.2" height="6.2" fill="#fff" stroke="#7a7a7a" stroke-width="1.6"/>
<rect x="143.71" y="355.55" width="6.2" height="6.2" fill="#fff" stroke="#7a7a7a" stroke-width="1.6"/>
<rect x="167.68" y="347.84" width="6.2" height="6.2" fill="#fff" stroke="#7a7a7a" stroke-width="1.6"/>
<rect x="191.65" y="331.40" width="6.2" height="6.2" fill="#fff" stroke="#7a7a7a" stroke-width="1.6"/>
<polygon points="74.90,393.25 78.90,400.25 70.90,400.25" fill="#7a7a7a"/>
<polygon points="98.87,377.15 102.87,384.15 94.87,384.15" fill="#7a7a7a"/>
<polygon points="122.84,348.64 126.84,355.64 118.84,355.64" fill="#7a7a7a"/>
<polygon points="146.81,321.36 150.81,328.36 142.81,328.36" fill="#7a7a7a"/>
<polygon points="170.78,307.83 174.78,314.83 166.78,314.83" fill="#7a7a7a"/>
<polygon points="194.75,302.80 198.75,309.80 190.75,309.80" fill="#7a7a7a"/>
<circle cx="74.90" cy="402.26" r="3.6" fill="#000"/>
<circle cx="98.87" cy="390.85" r="3.6" fill="#000"/>
<circle cx="122.84" cy="367.93" r="3.6" fill="#000"/>
<circle cx="146.81" cy="345.57" r="3.6" fill="#000"/>
<circle cx="170.78" cy="319.75" r="3.6" fill="#000"/>
<circle cx="194.75" cy="312.03" r="3.6" fill="#000"/>
<text x="121.40" y="341.81" font-size="21" font-weight="bold" text-anchor="middle" fill="#666666" class="st">*</text>
<text x="144.20" y="318.11" font-size="21" font-weight="bold" text-anchor="middle" fill="#666666" class="st">*</text>
<text x="165.25" y="372.91" font-size="21" font-weight="bold" text-anchor="middle" fill="#666666" class="st">*</text>
<text x="174.75" y="372.91" font-size="21" font-weight="bold" text-anchor="middle" fill="#666666" class="st">*</text>
<text x="192.30" y="355.00" font-size="21" font-weight="bold" text-anchor="middle" fill="#666666" class="st">*</text>
<text x="0.50" y="281.00" font-size="17" font-weight="bold" text-anchor="start" fill="#000" >C</text>
<text transform="translate(16.60,354.90) rotate(-90)" font-size="11.5" font-weight="bold" text-anchor="middle">Apoptotic Cells (%)</text>
<line x1="59.30" y1="271.10" x2="71.70" y2="271.10" stroke="#000" stroke-width="1.6" stroke-linecap="butt"/>
<circle cx="65.50" cy="271.10" r="3.6" fill="#000"/>
<text x="78.40" y="270.80" font-size="7" font-weight="bold" text-anchor="start" fill="#000" >Vec</text>
<text x="91.60" y="275.40" font-size="9" font-weight="bold" text-anchor="start" fill="#000" >ARP-1</text>
<line x1="59.30" y1="282.80" x2="71.70" y2="282.80" stroke="#7a7a7a" stroke-width="1.3" stroke-linecap="butt"/>
<rect x="62.40" y="279.70" width="6.2" height="6.2" fill="#fff" stroke="#7a7a7a" stroke-width="1.6"/>
<text x="78.40" y="282.70" font-size="7" font-weight="bold" text-anchor="start" fill="#000" >SHH+</text>
<text x="97.90" y="287.30" font-size="9" font-weight="bold" text-anchor="start" fill="#000" >ARP-1</text>
<line x1="59.30" y1="294.60" x2="71.70" y2="294.60" stroke="#7a7a7a" stroke-width="1.3" stroke-linecap="butt"/>
<polygon points="65.50,290.40 69.50,297.40 61.50,297.40" fill="#7a7a7a"/>
<text x="78.40" y="294.20" font-size="7" font-weight="bold" text-anchor="start" fill="#000" >SHH-</text>
<text x="95.60" y="298.80" font-size="9" font-weight="bold" text-anchor="start" fill="#000" >ARP-1</text>
<line x1="320.80" y1="300.80" x2="320.80" y2="414.00" stroke="#000" stroke-width="1.5" stroke-linecap="butt"/>
<line x1="317.30" y1="413.30" x2="320.80" y2="413.30" stroke="#000" stroke-width="1.4" stroke-linecap="butt"/>
<text x="316.00" y="417.40" font-size="11.5" font-weight="bold" text-anchor="end" fill="#000" >0</text>
<line x1="317.30" y1="390.94" x2="320.80" y2="390.94" stroke="#000" stroke-width="1.4" stroke-linecap="butt"/>
<text x="316.00" y="395.04" font-size="11.5" font-weight="bold" text-anchor="end" fill="#000" >20</text>
<line x1="317.30" y1="368.58" x2="320.80" y2="368.58" stroke="#000" stroke-width="1.4" stroke-linecap="butt"/>
<text x="316.00" y="372.68" font-size="11.5" font-weight="bold" text-anchor="end" fill="#000" >40</text>
<line x1="317.30" y1="346.22" x2="320.80" y2="346.22" stroke="#000" stroke-width="1.4" stroke-linecap="butt"/>
<text x="316.00" y="350.32" font-size="11.5" font-weight="bold" text-anchor="end" fill="#000" >60</text>
<line x1="317.30" y1="323.86" x2="320.80" y2="323.86" stroke="#000" stroke-width="1.4" stroke-linecap="butt"/>
<text x="316.00" y="327.96" font-size="11.5" font-weight="bold" text-anchor="end" fill="#000" >80</text>
<line x1="317.30" y1="301.50" x2="320.80" y2="301.50" stroke="#000" stroke-width="1.4" stroke-linecap="butt"/>
<text x="316.00" y="305.60" font-size="11.5" font-weight="bold" text-anchor="end" fill="#000" >100</text>
<line x1="317.30" y1="413.30" x2="490.20" y2="413.30" stroke="#000" stroke-width="1.5" stroke-linecap="butt"/>
<line x1="345.20" y1="413.30" x2="345.20" y2="416.50" stroke="#000" stroke-width="1.3" stroke-linecap="butt"/>
<text x="345.20" y="428.60" font-size="11.5" font-weight="bold" text-anchor="middle" fill="#000" >0</text>
<line x1="369.15" y1="413.30" x2="369.15" y2="416.50" stroke="#000" stroke-width="1.3" stroke-linecap="butt"/>
<text x="369.15" y="428.60" font-size="11.5" font-weight="bold" text-anchor="middle" fill="#000" >10</text>
<line x1="393.10" y1="413.30" x2="393.10" y2="416.50" stroke="#000" stroke-width="1.3" stroke-linecap="butt"/>
<text x="393.10" y="428.60" font-size="11.5" font-weight="bold" text-anchor="middle" fill="#000" >20</text>
<line x1="417.05" y1="413.30" x2="417.05" y2="416.50" stroke="#000" stroke-width="1.3" stroke-linecap="butt"/>
<text x="417.05" y="428.60" font-size="11.5" font-weight="bold" text-anchor="middle" fill="#000" >30</text>
<line x1="441.00" y1="413.30" x2="441.00" y2="416.50" stroke="#000" stroke-width="1.3" stroke-linecap="butt"/>
<text x="441.00" y="428.60" font-size="11.5" font-weight="bold" text-anchor="middle" fill="#000" >40</text>
<line x1="464.95" y1="413.30" x2="464.95" y2="416.50" stroke="#000" stroke-width="1.3" stroke-linecap="butt"/>
<text x="464.95" y="428.60" font-size="11.5" font-weight="bold" text-anchor="middle" fill="#000" >50</text>
<text x="405.30" y="439.40" font-size="11" font-weight="bold" text-anchor="middle" fill="#000" >Bortezomib (nM)</text>
<polyline points="345.20,403.24 369.15,372.27 393.10,352.37 417.05,347.45 441.00,340.18 464.95,337.28" fill="none" stroke="#7a7a7a" stroke-width="1.3"/>
<polyline points="345.20,399.88 369.15,344.77 393.10,325.20 417.05,314.36 441.00,311.67 464.95,305.75" fill="none" stroke="#7a7a7a" stroke-width="1.3"/>
<polyline points="345.20,399.55 369.15,357.51 393.10,337.28 417.05,330.01 441.00,322.74 464.95,314.36" fill="none" stroke="#000" stroke-width="1.6"/>
<line x1="369.15" y1="372.27" x2="369.15" y2="370.15" stroke="#7a7a7a" stroke-width="1.4" stroke-linecap="butt"/>
<line x1="365.95" y1="370.15" x2="372.35" y2="370.15" stroke="#7a7a7a" stroke-width="1.5" stroke-linecap="butt"/>
<line x1="393.10" y1="352.37" x2="393.10" y2="347.79" stroke="#7a7a7a" stroke-width="1.4" stroke-linecap="butt"/>
<line x1="389.90" y1="347.79" x2="396.30" y2="347.79" stroke="#7a7a7a" stroke-width="1.5" stroke-linecap="butt"/>
<line x1="441.00" y1="340.18" x2="441.00" y2="334.37" stroke="#7a7a7a" stroke-width="1.4" stroke-linecap="butt"/>
<line x1="437.80" y1="334.37" x2="444.20" y2="334.37" stroke="#7a7a7a" stroke-width="1.5" stroke-linecap="butt"/>
<line x1="369.15" y1="344.77" x2="369.15" y2="339.96" stroke="#7a7a7a" stroke-width="1.4" stroke-linecap="butt"/>
<line x1="365.95" y1="339.96" x2="372.35" y2="339.96" stroke="#7a7a7a" stroke-width="1.5" stroke-linecap="butt"/>
<line x1="393.10" y1="325.20" x2="393.10" y2="321.85" stroke="#7a7a7a" stroke-width="1.4" stroke-linecap="butt"/>
<line x1="389.90" y1="321.85" x2="396.30" y2="321.85" stroke="#7a7a7a" stroke-width="1.5" stroke-linecap="butt"/>
<line x1="393.10" y1="337.28" x2="393.10" y2="332.80" stroke="#000" stroke-width="1.4" stroke-linecap="butt"/>
<line x1="389.90" y1="332.80" x2="396.30" y2="332.80" stroke="#000" stroke-width="1.5" stroke-linecap="butt"/>
<line x1="417.05" y1="330.01" x2="417.05" y2="324.42" stroke="#000" stroke-width="1.4" stroke-linecap="butt"/>
<line x1="413.85" y1="324.42" x2="420.25" y2="324.42" stroke="#000" stroke-width="1.5" stroke-linecap="butt"/>
<rect x="342.10" y="400.14" width="6.2" height="6.2" fill="#fff" stroke="#7a7a7a" stroke-width="1.6"/>
<rect x="366.05" y="369.17" width="6.2" height="6.2" fill="#fff" stroke="#7a7a7a" stroke-width="1.6"/>
<rect x="390.00" y="349.27" width="6.2" height="6.2" fill="#fff" stroke="#7a7a7a" stroke-width="1.6"/>
<rect x="413.95" y="344.35" width="6.2" height="6.2" fill="#fff" stroke="#7a7a7a" stroke-width="1.6"/>
<rect x="437.90" y="337.08" width="6.2" height="6.2" fill="#fff" stroke="#7a7a7a" stroke-width="1.6"/>
<rect x="461.85" y="334.18" width="6.2" height="6.2" fill="#fff" stroke="#7a7a7a" stroke-width="1.6"/>
<polygon points="345.20,395.68 349.20,402.68 341.20,402.68" fill="#7a7a7a"/>
<polygon points="369.15,340.57 373.15,347.57 365.15,347.57" fill="#7a7a7a"/>
<polygon points="393.10,321.00 397.10,328.00 389.10,328.00" fill="#7a7a7a"/>
<polygon points="417.05,310.16 421.05,317.16 413.05,317.16" fill="#7a7a7a"/>
<polygon points="441.00,307.47 445.00,314.47 437.00,314.47" fill="#7a7a7a"/>
<polygon points="464.95,301.55 468.95,308.55 460.95,308.55" fill="#7a7a7a"/>
<circle cx="345.20" cy="399.55" r="3.6" fill="#000"/>
<circle cx="369.15" cy="357.51" r="3.6" fill="#000"/>
<circle cx="393.10" cy="337.28" r="3.6" fill="#000"/>
<circle cx="417.05" cy="330.01" r="3.6" fill="#000"/>
<circle cx="441.00" cy="322.74" r="3.6" fill="#000"/>
<circle cx="464.95" cy="314.36" r="3.6" fill="#000"/>
<text x="393.10" y="322.71" font-size="21" font-weight="bold" text-anchor="middle" fill="#666666" class="st">*</text>
<text x="417.20" y="311.50" font-size="21" font-weight="bold" text-anchor="middle" fill="#666666" class="st">*</text>
<text x="441.90" y="309.21" font-size="21" font-weight="bold" text-anchor="middle" fill="#666666" class="st">*</text>
<text x="393.50" y="377.61" font-size="21" font-weight="bold" text-anchor="middle" fill="#666666" class="st">*</text>
<text x="417.30" y="371.71" font-size="21" font-weight="bold" text-anchor="middle" fill="#666666" class="st">*</text>
<text x="441.20" y="365.81" font-size="21" font-weight="bold" text-anchor="middle" fill="#666666" class="st">*</text>
<text x="465.00" y="362.81" font-size="21" font-weight="bold" text-anchor="middle" fill="#666666" class="st">*</text>
<text x="266.90" y="280.80" font-size="17" font-weight="bold" text-anchor="start" fill="#000" >D</text>
<text transform="translate(287.00,354.70) rotate(-90)" font-size="11.5" font-weight="bold" text-anchor="middle">Apoptotic Cells (%)</text>
<line x1="330.00" y1="271.10" x2="342.40" y2="271.10" stroke="#000" stroke-width="1.6" stroke-linecap="butt"/>
<circle cx="336.20" cy="271.10" r="3.6" fill="#000"/>
<text x="348.50" y="271.10" font-size="7" font-weight="bold" text-anchor="start" fill="#000" >Vec</text>
<text x="362.30" y="275.70" font-size="9" font-weight="bold" text-anchor="start" fill="#000" >CAG</text>
<line x1="330.00" y1="282.80" x2="342.40" y2="282.80" stroke="#7a7a7a" stroke-width="1.3" stroke-linecap="butt"/>
<rect x="333.10" y="279.70" width="6.2" height="6.2" fill="#fff" stroke="#7a7a7a" stroke-width="1.6"/>
<text x="348.50" y="283.10" font-size="7" font-weight="bold" text-anchor="start" fill="#000" >SHH+</text>
<text x="368.50" y="287.70" font-size="9" font-weight="bold" text-anchor="start" fill="#000" >CAG</text>
<line x1="330.00" y1="295.10" x2="342.40" y2="295.10" stroke="#7a7a7a" stroke-width="1.3" stroke-linecap="butt"/>
<polygon points="336.20,290.90 340.20,297.90 332.20,297.90" fill="#7a7a7a"/>
<text x="348.50" y="294.20" font-size="7" font-weight="bold" text-anchor="start" fill="#000" >SHH-</text>
<text x="366.20" y="298.80" font-size="9" font-weight="bold" text-anchor="start" fill="#000" >CAG</text>
<line x1="51.20" y1="499.50" x2="51.20" y2="612.40" stroke="#000" stroke-width="1.5" stroke-linecap="butt"/>
<line x1="47.70" y1="611.70" x2="51.20" y2="611.70" stroke="#000" stroke-width="1.4" stroke-linecap="butt"/>
<text x="46.20" y="615.80" font-size="11.5" font-weight="bold" text-anchor="end" fill="#000" >0</text>
<line x1="47.70" y1="589.40" x2="51.20" y2="589.40" stroke="#000" stroke-width="1.4" stroke-linecap="butt"/>
<text x="46.20" y="593.50" font-size="11.5" font-weight="bold" text-anchor="end" fill="#000" >20</text>
<line x1="47.70" y1="567.10" x2="51.20" y2="567.10" stroke="#000" stroke-width="1.4" stroke-linecap="butt"/>
<text x="46.20" y="571.20" font-size="11.5" font-weight="bold" text-anchor="end" fill="#000" >40</text>
<line x1="47.70" y1="544.80" x2="51.20" y2="544.80" stroke="#000" stroke-width="1.4" stroke-linecap="butt"/>
<text x="46.20" y="548.90" font-size="11.5" font-weight="bold" text-anchor="end" fill="#000" >60</text>
<line x1="47.70" y1="522.50" x2="51.20" y2="522.50" stroke="#000" stroke-width="1.4" stroke-linecap="butt"/>
<text x="46.20" y="526.60" font-size="11.5" font-weight="bold" text-anchor="end" fill="#000" >80</text>
<line x1="47.70" y1="500.20" x2="51.20" y2="500.20" stroke="#000" stroke-width="1.4" stroke-linecap="butt"/>
<text x="46.20" y="504.30" font-size="11.5" font-weight="bold" text-anchor="end" fill="#000" >100</text>
<line x1="47.70" y1="611.70" x2="219.80" y2="611.70" stroke="#000" stroke-width="1.5" stroke-linecap="butt"/>
<line x1="74.90" y1="611.70" x2="74.90" y2="614.90" stroke="#000" stroke-width="1.3" stroke-linecap="butt"/>
<text x="74.90" y="627.40" font-size="11.5" font-weight="bold" text-anchor="middle" fill="#000" >0</text>
<line x1="98.88" y1="611.70" x2="98.88" y2="614.90" stroke="#000" stroke-width="1.3" stroke-linecap="butt"/>
<text x="98.88" y="627.40" font-size="11.5" font-weight="bold" text-anchor="middle" fill="#000" >2</text>
<line x1="122.86" y1="611.70" x2="122.86" y2="614.90" stroke="#000" stroke-width="1.3" stroke-linecap="butt"/>
<text x="122.86" y="627.40" font-size="11.5" font-weight="bold" text-anchor="middle" fill="#000" >4</text>
<line x1="146.84" y1="611.70" x2="146.84" y2="614.90" stroke="#000" stroke-width="1.3" stroke-linecap="butt"/>
<text x="146.84" y="627.40" font-size="11.5" font-weight="bold" text-anchor="middle" fill="#000" >6</text>
<line x1="170.82" y1="611.70" x2="170.82" y2="614.90" stroke="#000" stroke-width="1.3" stroke-linecap="butt"/>
<text x="170.82" y="627.40" font-size="11.5" font-weight="bold" text-anchor="middle" fill="#000" >8</text>
<line x1="194.80" y1="611.70" x2="194.80" y2="614.90" stroke="#000" stroke-width="1.3" stroke-linecap="butt"/>
<text x="194.80" y="627.40" font-size="11.5" font-weight="bold" text-anchor="middle" fill="#000" >10</text>
<text x="135.00" y="643.20" font-size="11" font-weight="bold" text-anchor="middle" fill="#000" >Melphalan (µM)</text>
<polyline points="74.90,605.57 98.88,592.41 122.86,584.16 146.84,573.46 170.82,560.41 194.80,538.89" fill="none" stroke="#7a7a7a" stroke-width="1.3"/>
<polyline points="74.90,605.01 98.88,584.16 122.86,552.27 146.84,525.85 170.82,515.36 194.80,512.58" fill="none" stroke="#7a7a7a" stroke-width="1.3"/>
<polyline points="74.90,606.12 98.88,592.75 122.86,570.78 146.84,555.84 170.82,533.43 194.80,524.62" fill="none" stroke="#000" stroke-width="1.6"/>
<line x1="146.84" y1="573.46" x2="146.84" y2="566.21" stroke="#7a7a7a" stroke-width="1.4" stroke-linecap="butt"/>
<line x1="143.64" y1="566.21" x2="150.04" y2="566.21" stroke="#7a7a7a" stroke-width="1.5" stroke-linecap="butt"/>
<line x1="194.80" y1="538.89" x2="194.80" y2="534.99" stroke="#7a7a7a" stroke-width="1.4" stroke-linecap="butt"/>
<line x1="191.60" y1="534.99" x2="198.00" y2="534.99" stroke="#7a7a7a" stroke-width="1.5" stroke-linecap="butt"/>
<line x1="98.88" y1="584.16" x2="98.88" y2="579.48" stroke="#7a7a7a" stroke-width="1.4" stroke-linecap="butt"/>
<line x1="95.68" y1="579.48" x2="102.08" y2="579.48" stroke="#7a7a7a" stroke-width="1.5" stroke-linecap="butt"/>
<line x1="122.86" y1="552.27" x2="122.86" y2="548.81" stroke="#7a7a7a" stroke-width="1.4" stroke-linecap="butt"/>
<line x1="119.66" y1="548.81" x2="126.06" y2="548.81" stroke="#7a7a7a" stroke-width="1.5" stroke-linecap="butt"/>
<line x1="146.84" y1="525.85" x2="146.84" y2="518.15" stroke="#7a7a7a" stroke-width="1.4" stroke-linecap="butt"/>
<line x1="143.64" y1="518.15" x2="150.04" y2="518.15" stroke="#7a7a7a" stroke-width="1.5" stroke-linecap="butt"/>
<line x1="170.82" y1="515.36" x2="170.82" y2="510.79" stroke="#7a7a7a" stroke-width="1.4" stroke-linecap="butt"/>
<line x1="167.62" y1="510.79" x2="174.02" y2="510.79" stroke="#7a7a7a" stroke-width="1.5" stroke-linecap="butt"/>
<line x1="194.80" y1="512.58" x2="194.80" y2="503.77" stroke="#7a7a7a" stroke-width="1.4" stroke-linecap="butt"/>
<line x1="191.60" y1="503.77" x2="198.00" y2="503.77" stroke="#7a7a7a" stroke-width="1.5" stroke-linecap="butt"/>
<line x1="170.82" y1="533.43" x2="170.82" y2="529.75" stroke="#000" stroke-width="1.4" stroke-linecap="butt"/>
<line x1="167.62" y1="529.75" x2="174.02" y2="529.75" stroke="#000" stroke-width="1.5" stroke-linecap="butt"/>
<rect x="71.80" y="602.47" width="6.2" height="6.2" fill="#fff" stroke="#7a7a7a" stroke-width="1.6"/>
<rect x="95.78" y="589.31" width="6.2" height="6.2" fill="#fff" stroke="#7a7a7a" stroke-width="1.6"/>
<rect x="119.76" y="581.06" width="6.2" height="6.2" fill="#fff" stroke="#7a7a7a" stroke-width="1.6"/>
<rect x="143.74" y="570.36" width="6.2" height="6.2" fill="#fff" stroke="#7a7a7a" stroke-width="1.6"/>
<rect x="167.72" y="557.31" width="6.2" height="6.2" fill="#fff" stroke="#7a7a7a" stroke-width="1.6"/>
<rect x="191.70" y="535.79" width="6.2" height="6.2" fill="#fff" stroke="#7a7a7a" stroke-width="1.6"/>
<polygon points="74.90,600.81 78.90,607.81 70.90,607.81" fill="#7a7a7a"/>
<polygon points="98.88,579.96 102.88,586.96 94.88,586.96" fill="#7a7a7a"/>
<polygon points="122.86,548.07 126.86,555.07 118.86,555.07" fill="#7a7a7a"/>
<polygon points="146.84,521.64 150.84,528.64 142.84,528.64" fill="#7a7a7a"/>
<polygon points="170.82,511.16 174.82,518.16 166.82,518.16" fill="#7a7a7a"/>
<polygon points="194.80,508.38 198.80,515.38 190.80,515.38" fill="#7a7a7a"/>
<circle cx="74.90" cy="606.12" r="3.6" fill="#000"/>
<circle cx="98.88" cy="592.75" r="3.6" fill="#000"/>
<circle cx="122.86" cy="570.78" r="3.6" fill="#000"/>
<circle cx="146.84" cy="555.84" r="3.6" fill="#000"/>
<circle cx="170.82" cy="533.43" r="3.6" fill="#000"/>
<circle cx="194.80" cy="524.62" r="3.6" fill="#000"/>
<text x="122.80" y="546.90" font-size="21" font-weight="bold" text-anchor="middle" fill="#666666" class="st">*</text>
<text x="122.80" y="606.21" font-size="21" font-weight="bold" text-anchor="middle" fill="#666666" class="st">*</text>
<text x="142.05" y="515.80" font-size="21" font-weight="bold" text-anchor="middle" fill="#666666" class="st">*</text>
<text x="151.55" y="515.80" font-size="21" font-weight="bold" text-anchor="middle" fill="#666666" class="st">*</text>
<text x="146.80" y="599.31" font-size="21" font-weight="bold" text-anchor="middle" fill="#666666" class="st">*</text>
<text x="170.80" y="507.00" font-size="21" font-weight="bold" text-anchor="middle" fill="#666666" class="st">*</text>
<text x="166.05" y="586.11" font-size="21" font-weight="bold" text-anchor="middle" fill="#666666" class="st">*</text>
<text x="175.55" y="586.11" font-size="21" font-weight="bold" text-anchor="middle" fill="#666666" class="st">*</text>
<text x="0.00" y="479.00" font-size="17" font-weight="bold" text-anchor="start" fill="#000" >E</text>
<text transform="translate(16.80,553.20) rotate(-90)" font-size="11.5" font-weight="bold" text-anchor="middle">Apoptotic Cells (%)</text>
<line x1="58.80" y1="469.20" x2="71.20" y2="469.20" stroke="#000" stroke-width="1.6" stroke-linecap="butt"/>
<circle cx="65.00" cy="469.20" r="3.6" fill="#000"/>
<text x="78.10" y="469.00" font-size="7" font-weight="bold" text-anchor="start" fill="#000" >Vec</text>
<text x="91.60" y="473.60" font-size="9" font-weight="bold" text-anchor="start" fill="#000" >ARP-1</text>
<line x1="58.80" y1="480.80" x2="71.20" y2="480.80" stroke="#7a7a7a" stroke-width="1.3" stroke-linecap="butt"/>
<rect x="61.90" y="477.70" width="6.2" height="6.2" fill="#fff" stroke="#7a7a7a" stroke-width="1.6"/>
<text x="78.10" y="480.60" font-size="7" font-weight="bold" text-anchor="start" fill="#000" >SHH+</text>
<text x="97.60" y="485.20" font-size="9" font-weight="bold" text-anchor="start" fill="#000" >ARP-1</text>
<line x1="58.80" y1="492.60" x2="71.20" y2="492.60" stroke="#7a7a7a" stroke-width="1.3" stroke-linecap="butt"/>
<polygon points="65.00,488.40 69.00,495.40 61.00,495.40" fill="#7a7a7a"/>
<text x="78.10" y="492.10" font-size="7" font-weight="bold" text-anchor="start" fill="#000" >SHH-</text>
<text x="95.60" y="496.70" font-size="9" font-weight="bold" text-anchor="start" fill="#000" >ARP-1</text>
<line x1="320.50" y1="501.50" x2="320.50" y2="614.50" stroke="#000" stroke-width="1.5" stroke-linecap="butt"/>
<line x1="317.00" y1="613.80" x2="320.50" y2="613.80" stroke="#000" stroke-width="1.4" stroke-linecap="butt"/>
<text x="315.80" y="617.90" font-size="11.5" font-weight="bold" text-anchor="end" fill="#000" >0</text>
<line x1="317.00" y1="591.48" x2="320.50" y2="591.48" stroke="#000" stroke-width="1.4" stroke-linecap="butt"/>
<text x="315.80" y="595.58" font-size="11.5" font-weight="bold" text-anchor="end" fill="#000" >20</text>
<line x1="317.00" y1="569.16" x2="320.50" y2="569.16" stroke="#000" stroke-width="1.4" stroke-linecap="butt"/>
<text x="315.80" y="573.26" font-size="11.5" font-weight="bold" text-anchor="end" fill="#000" >40</text>
<line x1="317.00" y1="546.84" x2="320.50" y2="546.84" stroke="#000" stroke-width="1.4" stroke-linecap="butt"/>
<text x="315.80" y="550.94" font-size="11.5" font-weight="bold" text-anchor="end" fill="#000" >60</text>
<line x1="317.00" y1="524.52" x2="320.50" y2="524.52" stroke="#000" stroke-width="1.4" stroke-linecap="butt"/>
<text x="315.80" y="528.62" font-size="11.5" font-weight="bold" text-anchor="end" fill="#000" >80</text>
<line x1="317.00" y1="502.20" x2="320.50" y2="502.20" stroke="#000" stroke-width="1.4" stroke-linecap="butt"/>
<text x="315.80" y="506.30" font-size="11.5" font-weight="bold" text-anchor="end" fill="#000" >100</text>
<line x1="317.00" y1="613.80" x2="489.60" y2="613.80" stroke="#000" stroke-width="1.5" stroke-linecap="butt"/>
<line x1="345.30" y1="613.80" x2="345.30" y2="617.00" stroke="#000" stroke-width="1.3" stroke-linecap="butt"/>
<text x="345.30" y="629.20" font-size="11.5" font-weight="bold" text-anchor="middle" fill="#000" >0</text>
<line x1="369.16" y1="613.80" x2="369.16" y2="617.00" stroke="#000" stroke-width="1.3" stroke-linecap="butt"/>
<text x="369.16" y="629.20" font-size="11.5" font-weight="bold" text-anchor="middle" fill="#000" >2</text>
<line x1="393.02" y1="613.80" x2="393.02" y2="617.00" stroke="#000" stroke-width="1.3" stroke-linecap="butt"/>
<text x="393.02" y="629.20" font-size="11.5" font-weight="bold" text-anchor="middle" fill="#000" >4</text>
<line x1="416.88" y1="613.80" x2="416.88" y2="617.00" stroke="#000" stroke-width="1.3" stroke-linecap="butt"/>
<text x="416.88" y="629.20" font-size="11.5" font-weight="bold" text-anchor="middle" fill="#000" >6</text>
<line x1="440.74" y1="613.80" x2="440.74" y2="617.00" stroke="#000" stroke-width="1.3" stroke-linecap="butt"/>
<text x="440.74" y="629.20" font-size="11.5" font-weight="bold" text-anchor="middle" fill="#000" >8</text>
<line x1="464.60" y1="613.80" x2="464.60" y2="617.00" stroke="#000" stroke-width="1.3" stroke-linecap="butt"/>
<text x="464.60" y="629.20" font-size="11.5" font-weight="bold" text-anchor="middle" fill="#000" >10</text>
<text x="405.00" y="645.20" font-size="11" font-weight="bold" text-anchor="middle" fill="#000" >Melphalan (µM)</text>
<polyline points="345.30,603.76 369.16,582.22 393.02,575.41 416.88,574.18 440.74,559.12 464.60,554.09" fill="none" stroke="#7a7a7a" stroke-width="1.3"/>
<polyline points="345.30,603.20 369.16,563.36 393.02,554.09 416.88,525.75 440.74,514.14 464.60,509.45" fill="none" stroke="#7a7a7a" stroke-width="1.3"/>
<polyline points="345.30,603.76 369.16,571.84 393.02,564.92 416.88,547.17 440.74,535.68 464.60,526.42" fill="none" stroke="#000" stroke-width="1.6"/>
<line x1="416.88" y1="574.18" x2="416.88" y2="568.49" stroke="#7a7a7a" stroke-width="1.4" stroke-linecap="butt"/>
<line x1="413.68" y1="568.49" x2="420.08" y2="568.49" stroke="#7a7a7a" stroke-width="1.5" stroke-linecap="butt"/>
<line x1="464.60" y1="554.09" x2="464.60" y2="550.41" stroke="#7a7a7a" stroke-width="1.4" stroke-linecap="butt"/>
<line x1="461.40" y1="550.41" x2="467.80" y2="550.41" stroke="#7a7a7a" stroke-width="1.5" stroke-linecap="butt"/>
<line x1="393.02" y1="554.09" x2="393.02" y2="550.41" stroke="#7a7a7a" stroke-width="1.4" stroke-linecap="butt"/>
<line x1="389.82" y1="550.41" x2="396.22" y2="550.41" stroke="#7a7a7a" stroke-width="1.5" stroke-linecap="butt"/>
<line x1="440.74" y1="514.14" x2="440.74" y2="510.24" stroke="#7a7a7a" stroke-width="1.4" stroke-linecap="butt"/>
<line x1="437.54" y1="510.24" x2="443.94" y2="510.24" stroke="#7a7a7a" stroke-width="1.5" stroke-linecap="butt"/>
<line x1="440.74" y1="535.68" x2="440.74" y2="531.44" stroke="#000" stroke-width="1.4" stroke-linecap="butt"/>
<line x1="437.54" y1="531.44" x2="443.94" y2="531.44" stroke="#000" stroke-width="1.5" stroke-linecap="butt"/>
<rect x="342.20" y="600.66" width="6.2" height="6.2" fill="#fff" stroke="#7a7a7a" stroke-width="1.6"/>
<rect x="366.06" y="579.12" width="6.2" height="6.2" fill="#fff" stroke="#7a7a7a" stroke-width="1.6"/>
<rect x="389.92" y="572.31" width="6.2" height="6.2" fill="#fff" stroke="#7a7a7a" stroke-width="1.6"/>
<rect x="413.78" y="571.08" width="6.2" height="6.2" fill="#fff" stroke="#7a7a7a" stroke-width="1.6"/>
<rect x="437.64" y="556.02" width="6.2" height="6.2" fill="#fff" stroke="#7a7a7a" stroke-width="1.6"/>
<rect x="461.50" y="550.99" width="6.2" height="6.2" fill="#fff" stroke="#7a7a7a" stroke-width="1.6"/>
<polygon points="345.30,599.00 349.30,606.00 341.30,606.00" fill="#7a7a7a"/>
<polygon points="369.16,559.16 373.16,566.16 365.16,566.16" fill="#7a7a7a"/>
<polygon points="393.02,549.89 397.02,556.89 389.02,556.89" fill="#7a7a7a"/>
<polygon points="416.88,521.55 420.88,528.55 412.88,528.55" fill="#7a7a7a"/>
<polygon points="440.74,509.94 444.74,516.94 436.74,516.94" fill="#7a7a7a"/>
<polygon points="464.60,505.25 468.60,512.25 460.60,512.25" fill="#7a7a7a"/>
<circle cx="345.30" cy="603.76" r="3.6" fill="#000"/>
<circle cx="369.16" cy="571.84" r="3.6" fill="#000"/>
<circle cx="393.02" cy="564.92" r="3.6" fill="#000"/>
<circle cx="416.88" cy="547.17" r="3.6" fill="#000"/>
<circle cx="440.74" cy="535.68" r="3.6" fill="#000"/>
<circle cx="464.60" cy="526.42" r="3.6" fill="#000"/>
<text x="416.80" y="523.81" font-size="21" font-weight="bold" text-anchor="middle" fill="#666666" class="st">*</text>
<text x="416.05" y="599.31" font-size="21" font-weight="bold" text-anchor="middle" fill="#666666" class="st">*</text>
<text x="425.55" y="599.31" font-size="21" font-weight="bold" text-anchor="middle" fill="#666666" class="st">*</text>
<text x="440.80" y="509.31" font-size="21" font-weight="bold" text-anchor="middle" fill="#666666" class="st">*</text>
<text x="440.80" y="585.00" font-size="21" font-weight="bold" text-anchor="middle" fill="#666666" class="st">*</text>
<text x="464.60" y="505.41" font-size="21" font-weight="bold" text-anchor="middle" fill="#666666" class="st">*</text>
<text x="462.25" y="579.21" font-size="21" font-weight="bold" text-anchor="middle" fill="#666666" class="st">*</text>
<text x="471.75" y="579.21" font-size="21" font-weight="bold" text-anchor="middle" fill="#666666" class="st">*</text>
<text x="267.00" y="479.40" font-size="17" font-weight="bold" text-anchor="start" fill="#000" >F</text>
<text transform="translate(287.60,554.80) rotate(-90)" font-size="11.5" font-weight="bold" text-anchor="middle">Apoptotic Cells (%)</text>
<line x1="330.00" y1="471.50" x2="342.40" y2="471.50" stroke="#000" stroke-width="1.6" stroke-linecap="butt"/>
<circle cx="336.20" cy="471.50" r="3.6" fill="#000"/>
<text x="348.50" y="471.10" font-size="7" font-weight="bold" text-anchor="start" fill="#000" >Vec</text>
<text x="362.30" y="475.70" font-size="9" font-weight="bold" text-anchor="start" fill="#000" >CAG</text>
<line x1="330.00" y1="483.10" x2="342.40" y2="483.10" stroke="#7a7a7a" stroke-width="1.3" stroke-linecap="butt"/>
<rect x="333.10" y="480.00" width="6.2" height="6.2" fill="#fff" stroke="#7a7a7a" stroke-width="1.6"/>
<text x="348.50" y="483.10" font-size="7" font-weight="bold" text-anchor="start" fill="#000" >SHH+</text>
<text x="368.50" y="487.70" font-size="9" font-weight="bold" text-anchor="start" fill="#000" >CAG</text>
<line x1="330.00" y1="495.10" x2="342.40" y2="495.10" stroke="#7a7a7a" stroke-width="1.3" stroke-linecap="butt"/>
<polygon points="336.20,490.90 340.20,497.90 332.20,497.90" fill="#7a7a7a"/>
<text x="348.50" y="494.40" font-size="7" font-weight="bold" text-anchor="start" fill="#000" >SHH-</text>
<text x="366.20" y="499.00" font-size="9" font-weight="bold" text-anchor="start" fill="#000" >CAG</text>
</svg></body></html>
